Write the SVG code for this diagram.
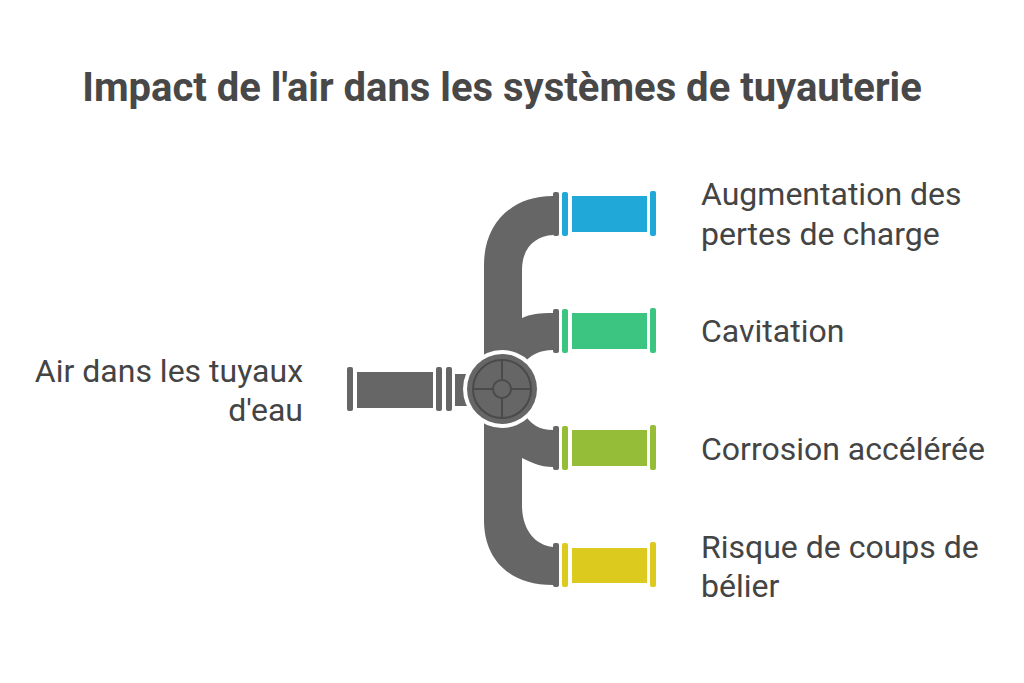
<svg xmlns="http://www.w3.org/2000/svg" width="1024" height="683" viewBox="0 0 1024 683">
<style>
text{font-family:Roboto,"Liberation Sans",sans-serif;fill:#444}
.t{font-size:40px;font-weight:bold;fill:#484848}
.l{font-size:32px}
.g{fill:#666}
</style>
<rect width="1024" height="683" fill="#fff"/>
<text class="t" x="502" y="101" text-anchor="middle">Impact de l'air dans les systèmes de tuyauterie</text>
<g id="pipes">
<path class="g" d="M553,196 L553,235 C535,236 522,248 522,270 L522,318 C530,314 540,313 553,313 L553,350 C540,350 530,355 522,365 L522,410 C530,425 540,430 553,430 L553,467 C540,467 530,462 522,458 L522,505 C522,530 535,545 553,547 L553,585 C510,585 484,560 484,520 L484,265 C484,225 510,196 553,196 Z"/>
</g>
<g id="source">
<rect class="g" x="347" y="367" width="6" height="44" rx="2"/>
<rect class="g" x="357" y="372" width="76" height="36"/>
<rect class="g" x="436" y="367" width="6" height="44" rx="2"/>
<rect class="g" x="446" y="367" width="6" height="44" rx="2"/>
<rect class="g" x="455" y="374" width="14" height="32"/>
</g>
<g id="valve">
<circle cx="502" cy="389" r="39" fill="#fff"/>
<circle cx="502" cy="389" r="35" fill="#666"/>
<circle cx="502" cy="389" r="29" fill="none" stroke="#4a4a4a" stroke-width="2"/>
<circle cx="502" cy="389" r="9" fill="none" stroke="#4a4a4a" stroke-width="2"/>
<path d="M473,389H493M511,389H531M502,360V380M502,398V418" stroke="#4a4a4a" stroke-width="2"/>
</g>
<g id="n1">
<rect class="g" x="553" y="192" width="6" height="44" rx="2"/>
<rect x="562" y="192" width="6" height="44" rx="2" fill="#1fa8d8"/>
<rect x="572" y="196" width="75" height="36" fill="#1fa8d8"/>
<rect x="650" y="191" width="6" height="45" rx="2" fill="#1fa8d8"/>
<text class="l" x="701" y="205">Augmentation des</text>
<text class="l" x="701" y="245">pertes de charge</text>
</g>
<g id="n2">
<rect class="g" x="553" y="309" width="6" height="44" rx="2"/>
<rect x="562" y="309" width="6" height="44" rx="2" fill="#3cc481"/>
<rect x="572" y="313" width="75" height="36" fill="#3cc481"/>
<rect x="650" y="308" width="6" height="45" rx="2" fill="#3cc481"/>
<text class="l" x="701" y="342">Cavitation</text>
</g>
<g id="n3">
<rect class="g" x="553" y="426" width="6" height="44" rx="2"/>
<rect x="562" y="426" width="6" height="44" rx="2" fill="#95bd38"/>
<rect x="572" y="430" width="75" height="36" fill="#95bd38"/>
<rect x="650" y="425" width="6" height="45" rx="2" fill="#95bd38"/>
<text class="l" x="701" y="460">Corrosion accélérée</text>
</g>
<g id="n4">
<rect class="g" x="553" y="543" width="6" height="44" rx="2"/>
<rect x="562" y="543" width="6" height="44" rx="2" fill="#dcca1f"/>
<rect x="572" y="548" width="75" height="35" fill="#dcca1f"/>
<rect x="650" y="542" width="6" height="45" rx="2" fill="#dcca1f"/>
<text class="l" x="701" y="558">Risque de coups de</text>
<text class="l" x="701" y="597">bélier</text>
</g>
<g id="n0">
<text class="l" x="303" y="382" text-anchor="end">Air dans les tuyaux</text>
<text class="l" x="303" y="421" text-anchor="end">d'eau</text>
</g>
</svg>
